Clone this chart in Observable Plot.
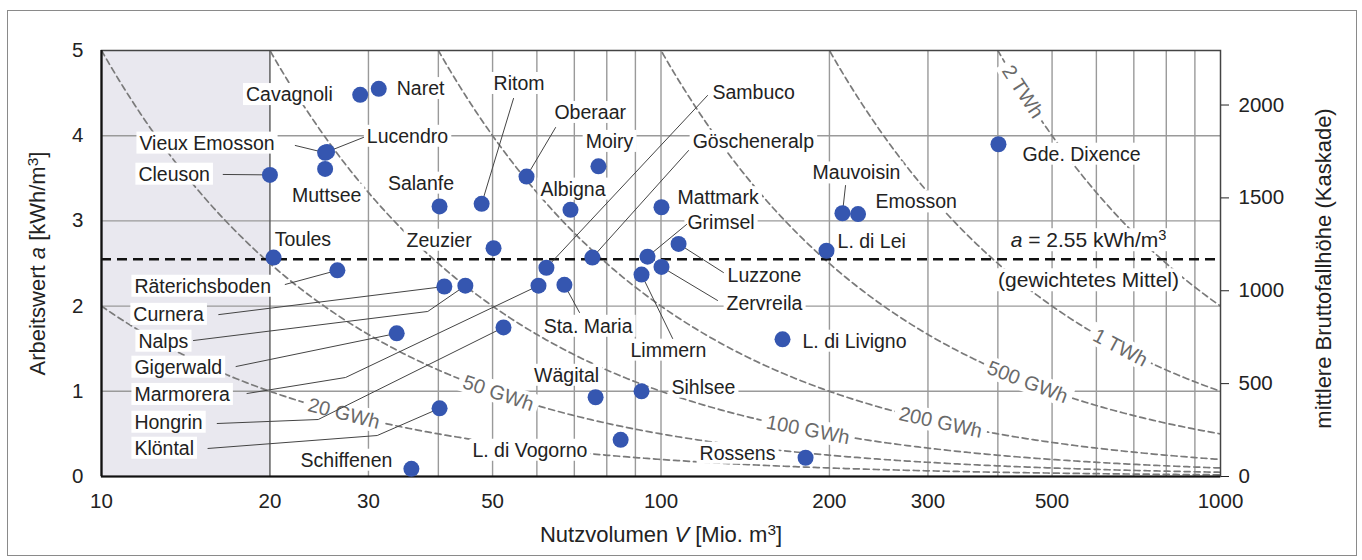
<!DOCTYPE html>
<html><head><meta charset="utf-8">
<script src="https://cdn.jsdelivr.net/npm/d3@7"></script>
<script src="https://cdn.jsdelivr.net/npm/@observablehq/plot@0.6"></script>
<style>
html,body{margin:0;padding:0;background:#fff;overflow:hidden;}
#wrap{position:relative;width:1362px;height:560px;overflow:hidden;}
#chart{position:absolute;left:0;top:0;}
#border{position:absolute;left:7px;top:10px;width:1350px;height:546px;border:1.5px solid #8a8a8a;box-sizing:border-box;pointer-events:none;}
</style></head><body>
<div id="wrap"><div id="chart"></div><div id="border"></div></div>
<script>
// ---------- data ----------
const reservoirs = ["Cleuson","Vieux Emosson","Lucendro","Muttsee","Cavagnoli","Naret","Toules","Räterichsboden",
  "Salanfe","Ritom","Oberaar","Moiry","Albigna","Mattmark","Zeuzier","Göscheneralp","Sambuco","Grimsel",
  "Luzzone","Zervreila","Limmern","L. di Lei","Mauvoisin","Emosson","Gde. Dixence","Curnera","Nalps",
  "Gigerwald","Marmorera","Sta. Maria","Hongrin","Klöntal","Schiffenen","L. di Livigno","Wägital","Sihlsee",
  "L. di Vogorno","Rossens"];
const volume = [20.0,25.1,25.3,25.1,29.0,31.3,20.3,26.4,
  40.2,47.8,57.5,77.3,68.9,100.2,50.2,75.4,62.4,94.6,
  107.5,100.2,92.3,197.6,211,225,401,41.0,44.7,
  33.7,60.4,67.2,52.3,40.2,35.8,164.9,76.4,92.3,
  84.7,181.3];
const arbeitswert = [3.54,3.80,3.81,3.61,4.48,4.55,2.57,2.42,
  3.17,3.20,3.52,3.64,3.13,3.16,2.68,2.57,2.45,2.58,
  2.73,2.46,2.37,2.65,3.09,3.08,3.90,2.23,2.24,
  1.68,2.24,2.25,1.75,0.80,0.09,1.61,0.93,1.00,
  0.43,0.22];
const meanA = 2.55;
const isoEnergyGWh = [20, 50, 100, 200, 500, 1000, 2000];
const isoLabels = ["20 GWh","50 GWh","100 GWh","200 GWh","500 GWh","1 TWh","2 TWh"];
const xTicks = [10,20,30,50,100,200,300,500,1000];
const yTicks = [0,1,2,3,4,5];
const headTicks = [0,500,1000,1500,2000];
const gridV = [30,40,50,60,70,80,90,100,200,300,400,500,600,700,800,900];
const gridA = [1,2,3,4];
const excludedRange = [10,20];
const aPerMeter = 0.00218; // kWh/m3 per m of mean gross head

// ---------- annotation layout (label anchor in data units, leader bend points) ----------
const labelLayout = [
  ["Cavagnoli",25.9,4.48,"end"],
  ["Naret",33.7,4.55,"start"],
  ["Vieux Emosson",11.69,3.91,"start",[[22.2,3.885]]],
  ["Lucendro",29.8,3.99,"start",[[29.4,3.98]]],
  ["Cleuson",11.64,3.545,"start",[[16.5,3.545]]],
  ["Muttsee",21.9,3.30,"start"],
  ["Salanfe",32.5,3.44,"start"],
  ["Toules",20.4,2.78,"start"],
  ["Zeuzier",35.1,2.77,"start"],
  ["Ritom",50.2,4.61,"start",[[54.5,4.437]]],
  ["Oberaar",64.5,4.27,"start",[[64.8,4.096]]],
  ["Moiry",80.9,3.93,"middle"],
  ["Albigna",60.9,3.37,"start"],
  ["Sambuco",123.6,4.50,"start",[[121.1,4.472]]],
  ["Göscheneralp",113.9,3.93,"start",[[112.0,3.826]]],
  ["Mattmark",107.0,3.27,"start"],
  ["Grimsel",111.5,2.98,"start",[[111.1,2.958]]],
  ["Mauvoisin",186.6,3.56,"start",[[213.7,3.415]]],
  ["Emosson",241.8,3.22,"start"],
  ["L. di Lei",206.8,2.76,"start"],
  ["Gde. Dixence",442.8,3.78,"start"],
  ["Luzzone",131.5,2.36,"start",[[129.3,2.394]]],
  ["Zervreila",131.0,2.03,"start",[[126.2,2.066]]],
  ["Sta. Maria",61.7,1.76,"start",[[71.5,1.925]]],
  ["Limmern",103.1,1.48,"middle",[[104.9,1.62]]],
  ["L. di Livigno",179.0,1.585,"start"],
  ["Wägital",67.8,1.185,"middle"],
  ["Sihlsee",104.4,1.045,"start"],
  ["L. di Vogorno",58.3,0.305,"middle"],
  ["Rossens",117.2,0.27,"start"],
  ["Schiffenen",33.1,0.188,"end"],
  ["Räterichsboden",11.45,2.23,"start",[[21.3,2.254]]],
  ["Curnera",11.40,1.90,"start",[[16.2,1.90]]],
  ["Nalps",11.64,1.585,"start",[[14.6,1.596],[38.3,1.937]]],
  ["Gigerwald",11.45,1.28,"start",[[17.4,1.291]]],
  ["Marmorera",11.45,0.96,"start",[[18.2,0.974],[27.3,1.162]]],
  ["Hongrin",11.45,0.634,"start",[[16.1,0.622],[24.4,0.669]]],
  ["Klöntal",11.45,0.329,"start",[[15.5,0.329],[31.1,0.481]]]
];
const isoLabelV = [27.1, 51.2, 183, 316, 452, 662, 443];
const isoLabelRotate = [14.5, 19, 11, 12.5, 21, 28, 57];
const meanLabelV = 581, meanLabelA = [2.77, 2.30];

// ---------- build ----------
const pts = reservoirs.map((name,i)=>({name, V: volume[i], a: arbeitswert[i]}));
const byName = new Map(pts.map(d=>[d.name,d]));
const labels = labelLayout.map(([name,x,y,anchor,leader])=>({name,x,y,anchor,leader}));
const leaderPts = labels.filter(d=>d.leader).flatMap(d=>[
  ...d.leader.map(([V,a])=>({name:d.name,V,a})),
  {name:d.name, V:byName.get(d.name).V, a:byName.get(d.name).a}
]);
const curveV = d3.range(0, 2.0001, 0.005).map(t => 10 ** (1 + t));
const isoCurves = isoEnergyGWh.flatMap(E => curveV.map(V => ({E, V, a: E / V})).filter(d => d.a <= 6.5));
const isoLabelData = isoEnergyGWh.map((E,i)=>({label: isoLabels[i], V: isoLabelV[i], a: E / isoLabelV[i], rot: isoLabelRotate[i]}));
const meanText = `a = ${meanA.toFixed(2)} kWh/m³`;
const meanLabels = [
  {t: meanText, V: meanLabelV, a: meanLabelA[0]},
  {t: "(gewichtetes Mittel)", V: meanLabelV, a: meanLabelA[1]}
];

const font = "'Liberation Sans', Arial, Helvetica, sans-serif";
const ink = "#222";
const plot = Plot.plot({
  width:1362, height:560, marginLeft:101, marginRight:142, marginTop:50, marginBottom:84,
  style:{fontFamily:font, fontSize:"19.5px", background:"transparent", color:ink},
  x:{type:"log", domain:[xTicks[0], xTicks[xTicks.length-1]]},
  y:{domain:[yTicks[0], yTicks[yTicks.length-1]]},
  marks:[
    Plot.rect([excludedRange], {x1:d=>d[0], x2:d=>d[1], fill:"#e9e8ef"}),
    Plot.ruleY(gridA, {stroke:"#9a9a9a", strokeWidth:1.4}),
    Plot.ruleX(gridV, {stroke:"#9a9a9a", strokeWidth:1.4}),
    Plot.ruleX([excludedRange[1]], {stroke:"#555", strokeWidth:1.4}),
    Plot.line(isoCurves, {x:"V", y:"a", z:"E", stroke:"#7a7a7a", strokeWidth:1.7, strokeDasharray:"6,4", clip:true}),
    Plot.ruleY([meanA], {stroke:"#111", strokeWidth:2.4, strokeDasharray:"10,6"}),
    Plot.frame({stroke:"#444", strokeWidth:1.5}),
    Plot.ruleX([xTicks[0]], {stroke:"#111", strokeWidth:2.2}),
    Plot.ruleY([yTicks[0]], {stroke:"#111", strokeWidth:2.2}),
    Plot.text(isoLabelData, {x:"V", y:"a", text:"label", rotate:"rot", fill:"#6a6a6a", fontSize:20}),
    Plot.text(meanLabels, {x:"V", y:"a", text:"t", fill:ink, fontSize:21}),
    ...["start","middle","end"].map(anc => Plot.text(labels.filter(d=>d.anchor===anc),
      {x:"x", y:"y", text:"name", textAnchor:anc, fill:ink})),
    Plot.line(leaderPts, {x:"V", y:"a", z:"name", stroke:"#444", strokeWidth:1}),
    Plot.dot(pts, {x:"V", y:"a", r:8, fill:"#3556b0"}),
    Plot.axisX({ticks:xTicks, tickSize:0, tickPadding:17, tickFormat:d=>String(d), label:null, fontSize:20.5, fill:ink}),
    Plot.axisY({anchor:"left", ticks:yTicks, tickSize:0, tickPadding:18, tickFormat:d=>String(d), label:null, fontSize:20.5, fill:ink}),
    Plot.axisY({anchor:"right", ticks:headTicks.map(h=>h*aPerMeter), tickFormat:d=>String(Math.round(d/aPerMeter)),
      tickSize:8, tickPadding:10, label:null, fontSize:20.5, stroke:"#222", fill:ink}),
    Plot.text(["Nutzvolumen V [Mio. m³]"], {text:d=>d, frameAnchor:"bottom", textAnchor:"middle", lineAnchor:"middle", dy:58, fontSize:22, fill:ink}),
    Plot.text(["Arbeitswert a [kWh/m³]"], {text:d=>d, frameAnchor:"left", textAnchor:"middle", lineAnchor:"middle", dx:-64, rotate:-90, fontSize:22, fill:ink}),
    Plot.text(["mittlere Bruttofallhöhe (Kaskade)"], {text:d=>d, frameAnchor:"right", textAnchor:"middle", lineAnchor:"middle", dx:103, dy:5, rotate:-90, fontSize:22, fill:ink})
  ]
});
document.getElementById("chart").append(plot);

// white label boxes behind annotation texts
const boxed = new Set([...reservoirs, ...isoLabels, ...meanLabels.map(d=>d.t)]);
const isoSet = new Set(isoLabels);
const groups = new Map();
d3.select(plot).selectAll("text").each(function(){
  if (!boxed.has(this.textContent)) return;
  const g = this.parentNode;
  if (!groups.has(g)) groups.set(g, []);
  groups.get(g).push(this);
});
for (const [g, texts] of groups) {
  const first = g.firstChild;
  for (const t of texts) {
    const b = t.getBBox();
    const iso = isoSet.has(t.textContent);
    const px = iso ? 5 : 3;
    const r = document.createElementNS("http://www.w3.org/2000/svg","rect");
    r.setAttribute("x", b.x - px); r.setAttribute("y", b.y);
    r.setAttribute("width", b.width + 2*px); r.setAttribute("height", b.height);
    r.setAttribute("fill","white"); r.setAttribute("stroke","none");
    const tr = t.getAttribute("transform"); if (tr) r.setAttribute("transform", tr);
    g.insertBefore(r, first);
  }
}

// rich text (italic symbols, superscripts)
const sup = (s) => `<tspan dy="-7" font-size="70%">${s}</tspan>`;
const rich = {
  "Nutzvolumen V [Mio. m³]": `Nutzvolumen <tspan font-style="italic">V</tspan> [Mio. m${sup("3")}<tspan dy="7">]</tspan>`,
  "Arbeitswert a [kWh/m³]": `Arbeitswert <tspan font-style="italic">a</tspan> [kWh/m${sup("3")}<tspan dy="7">]</tspan>`,
  [meanText]: `<tspan font-style="italic">a</tspan> = ${meanA.toFixed(2)} kWh/m${sup("3")}`
};
d3.select(plot).selectAll("text").each(function(){
  const r = rich[this.textContent];
  if (r) this.innerHTML = r;
});
</script></body></html>
